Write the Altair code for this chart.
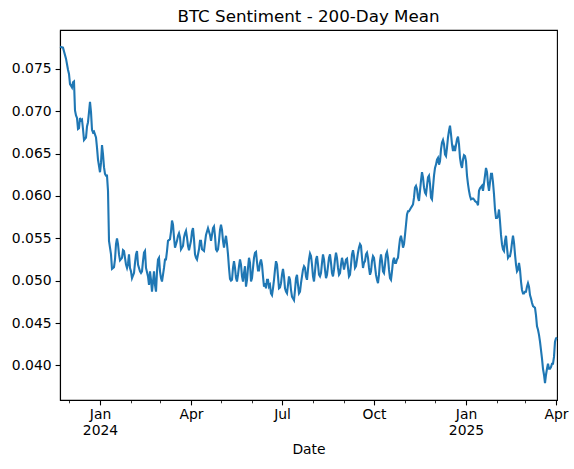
import altair as alt
import pandas as pd

START = "2023-11-22"

# day offset from START, and the 200-day mean sentiment on that day
days = [
    0, 3, 6, 8, 9, 10, 11, 12, 13, 14, 15, 16, 17, 18, 19, 20, 21, 22, 23, 24,
    26, 27, 28, 29, 30, 31, 32, 33, 34, 36, 37, 38, 40, 41, 42, 43, 44, 45, 46, 47,
    48, 49, 50, 51, 52, 54, 55, 56, 57, 58, 59, 60, 62, 63, 64, 65, 66, 67, 68, 69,
    70, 71, 72, 74, 75, 76, 77, 78, 80, 81, 82, 83, 84, 85, 86, 88, 89, 90, 91, 92,
    93, 94, 95, 96, 97, 98, 99, 100, 101, 102, 104, 105, 106, 107, 108, 110, 111, 112, 113, 114,
    115, 117, 118, 119, 120, 121, 123, 124, 125, 126, 127, 128, 129, 131, 132, 133, 134, 135, 136, 137,
    139, 140, 141, 142, 144, 145, 146, 147, 148, 150, 151, 152, 153, 154, 155, 156, 157, 158, 159, 160,
    161, 162, 163, 164, 165, 166, 167, 168, 169, 170, 171, 172, 173, 174, 175, 176, 177, 178, 179, 180,
    181, 182, 183, 184, 185, 186, 187, 188, 189, 190, 191, 192, 193, 194, 195, 196, 197, 198, 199, 200,
    201, 202, 203, 204, 205, 206, 207, 208, 209, 210, 211, 212, 213, 214, 215, 216, 217, 218, 219, 220,
    221, 222, 223, 224, 225, 226, 227, 228, 229, 230, 231, 232, 233, 234, 235, 236, 237, 238, 239, 240,
    241, 242, 243, 244, 245, 246, 247, 248, 249, 250, 251, 252, 253, 254, 255, 256, 257, 258, 259, 260,
    261, 262, 263, 264, 265, 266, 267, 268, 269, 270, 271, 272, 273, 274, 275, 276, 277, 278, 279, 280,
    281, 282, 283, 284, 285, 286, 287, 288, 289, 290, 291, 292, 293, 294, 295, 296, 297, 298, 299, 300,
    301, 302, 303, 304, 305, 306, 307, 308, 309, 310, 311, 312, 313, 314, 315, 316, 317, 318, 319, 320,
    321, 322, 323, 324, 325, 326, 327, 328, 329, 330, 331, 332, 333, 334, 335, 336, 337, 338, 339, 340,
    341, 342, 343, 344, 345, 346, 347, 348, 349, 350, 351, 352, 353, 354, 355, 356, 357, 358, 359, 360,
    361, 362, 363, 364, 365, 366, 367, 368, 369, 370, 371, 372, 373, 374, 375, 376, 377, 378, 379, 380,
    381, 382, 383, 384, 385, 386, 387, 388, 389, 390, 391, 392, 393, 394, 395, 396, 397, 398, 399, 400,
    401, 402, 403, 404, 405, 406, 407, 408, 409, 410, 411, 413, 414, 415, 417, 418, 419, 420, 422, 423,
    425, 426, 427, 428, 429, 430, 431, 432, 433, 434, 435, 436, 437, 438, 439, 440, 441, 442, 443, 444,
    445, 446, 447, 448, 449, 450, 451, 452, 453, 454, 455, 456, 457, 458, 459, 460, 461, 462, 463, 464,
    465, 466, 467, 468, 469, 470, 471, 472, 473, 475, 476, 477, 478, 479, 480, 481, 482, 483, 484, 485,
    486, 487, 488, 489, 490, 491, 492, 493, 494, 495, 496, 497,
]

sentiment = [
    0.0776, 0.0775, 0.0762, 0.0749, 0.0744, 0.0732, 0.0730, 0.0728, 0.0734, 0.0735,
    0.0701, 0.0695, 0.0692, 0.0679, 0.0680, 0.0692, 0.0689, 0.0690, 0.0679, 0.0666,
    0.0669, 0.0682, 0.0687, 0.0699, 0.0711, 0.0699, 0.0678, 0.0675, 0.0676, 0.0669,
    0.0657, 0.0643, 0.0628, 0.0639, 0.0660, 0.0649, 0.0634, 0.0626, 0.0624, 0.0624,
    0.0606, 0.0547, 0.0539, 0.0531, 0.0514, 0.0516, 0.0525, 0.0543, 0.0550, 0.0543,
    0.0531, 0.0524, 0.0527, 0.0536, 0.0535, 0.0527, 0.0519, 0.0515, 0.0520, 0.0531,
    0.0515, 0.0511, 0.0503, 0.0509, 0.0521, 0.0531, 0.0535, 0.0519, 0.0511, 0.0509,
    0.0511, 0.0523, 0.0533, 0.0535, 0.0515, 0.0505, 0.0495, 0.0511, 0.0501, 0.0487,
    0.0499, 0.0511, 0.0495, 0.0487, 0.0511, 0.0525, 0.0527, 0.0511, 0.0503, 0.0499,
    0.0515, 0.0525, 0.0525, 0.0535, 0.0547, 0.0549, 0.0558, 0.0571, 0.0566, 0.0551,
    0.0539, 0.0547, 0.0553, 0.0556, 0.0551, 0.0537, 0.0541, 0.0551, 0.0556, 0.0559,
    0.0551, 0.0541, 0.0536, 0.0547, 0.0558, 0.0562, 0.0549, 0.0531, 0.0527, 0.0525,
    0.0537, 0.0547, 0.0547, 0.0537, 0.0535, 0.0545, 0.0554, 0.0558, 0.0562, 0.0554,
    0.0547, 0.0554, 0.0562, 0.0564, 0.0553, 0.0537, 0.0535, 0.0537, 0.0547, 0.0560,
    0.0566, 0.0560, 0.0547, 0.0539, 0.0547, 0.0553, 0.0543, 0.0531, 0.0515, 0.0502,
    0.0500, 0.0501, 0.0515, 0.0523, 0.0515, 0.0503, 0.0499, 0.0507, 0.0517, 0.0525,
    0.0519, 0.0505, 0.0499, 0.0509, 0.0517, 0.0493, 0.0501, 0.0515, 0.0527, 0.0521,
    0.0499, 0.0503, 0.0515, 0.0527, 0.0533, 0.0534, 0.0522, 0.0512, 0.0512, 0.0521,
    0.0525, 0.0519, 0.0505, 0.0493, 0.0497, 0.0491, 0.0501, 0.0501, 0.0493, 0.0495,
    0.0485, 0.0483, 0.0491, 0.0501, 0.0513, 0.0523, 0.0519, 0.0505, 0.0491, 0.0492,
    0.0497, 0.0507, 0.0514, 0.0505, 0.0491, 0.0487, 0.0485, 0.0495, 0.0505, 0.0501,
    0.0489, 0.0481, 0.0479, 0.0477, 0.0489, 0.0503, 0.0507, 0.0495, 0.0485, 0.0487,
    0.0497, 0.0505, 0.0513, 0.0517, 0.0515, 0.0505, 0.0501, 0.0513, 0.0525, 0.0532,
    0.0529, 0.0519, 0.0505, 0.0499, 0.0511, 0.0525, 0.0529, 0.0519, 0.0507, 0.0505,
    0.0509, 0.0521, 0.0531, 0.0525, 0.0513, 0.0503, 0.0507, 0.0517, 0.0527, 0.0531,
    0.0521, 0.0509, 0.0505, 0.0513, 0.0525, 0.0533, 0.0527, 0.0515, 0.0507, 0.0509,
    0.0519, 0.0527, 0.0521, 0.0513, 0.0519, 0.0525, 0.0526, 0.0515, 0.0505, 0.0507,
    0.0519, 0.0531, 0.0536, 0.0529, 0.0515, 0.0517, 0.0525, 0.0533, 0.0539, 0.0543,
    0.0541, 0.0527, 0.0515, 0.0521, 0.0523, 0.0531, 0.0533, 0.0527, 0.0515, 0.0507,
    0.0511, 0.0523, 0.0529, 0.0527, 0.0517, 0.0507, 0.0501, 0.0497, 0.0507, 0.0523,
    0.0531, 0.0523, 0.0511, 0.0509, 0.0519, 0.0531, 0.0534, 0.0527, 0.0513, 0.0503,
    0.0501, 0.0511, 0.0523, 0.0527, 0.0521, 0.0521, 0.0525, 0.0527, 0.0539, 0.0549,
    0.0553, 0.0547, 0.0539, 0.0543, 0.0554, 0.0566, 0.0578, 0.0582, 0.0582, 0.0584,
    0.0586, 0.0588, 0.0590, 0.0598, 0.0610, 0.0612, 0.0608, 0.0598, 0.0594, 0.0606,
    0.0618, 0.0628, 0.0622, 0.0610, 0.0604, 0.0602, 0.0612, 0.0622, 0.0624, 0.0614,
    0.0598, 0.0596, 0.0610, 0.0624, 0.0633, 0.0637, 0.0643, 0.0645, 0.0637, 0.0641,
    0.0655, 0.0663, 0.0666, 0.0661, 0.0649, 0.0647, 0.0657, 0.0669, 0.0677, 0.0683,
    0.0673, 0.0661, 0.0653, 0.0657, 0.0653, 0.0660, 0.0667, 0.0670, 0.0661, 0.0645,
    0.0637, 0.0633, 0.0643, 0.0648, 0.0647, 0.0641, 0.0624, 0.0614, 0.0606, 0.0600,
    0.0596, 0.0597, 0.0596, 0.0594, 0.0592, 0.0589, 0.0606, 0.0609, 0.0612, 0.0606,
    0.0624, 0.0633, 0.0628, 0.0614, 0.0606, 0.0616, 0.0626, 0.0626, 0.0616, 0.0602,
    0.0584, 0.0574, 0.0574, 0.0576, 0.0584, 0.0570, 0.0554, 0.0543, 0.0537, 0.0535,
    0.0547, 0.0553, 0.0539, 0.0527, 0.0529, 0.0529, 0.0535, 0.0545, 0.0553, 0.0545,
    0.0531, 0.0519, 0.0511, 0.0513, 0.0521, 0.0513, 0.0499, 0.0489, 0.0485, 0.0485,
    0.0487, 0.0487, 0.0493, 0.0497, 0.0493, 0.0483, 0.0479, 0.0474, 0.0470, 0.0468,
    0.0459, 0.0446, 0.0442, 0.0436, 0.0428, 0.0418, 0.0408, 0.0396, 0.0389, 0.0379,
    0.0389, 0.0396, 0.0402, 0.0396, 0.0396, 0.0398, 0.0402, 0.0402, 0.0410, 0.0428,
    0.0432, 0.0433,
]

# labelled ticks at quarter starts, short ticks at every month start
major_ticks = [(2024, 1), (2024, 4), (2024, 7), (2024, 10), (2025, 1), (2025, 4)]
minor_ticks = [(2023, 12)] + [(2024, m) for m in range(1, 13)] + [(2025, m) for m in range(1, 5)]
y_ticks = [0.040, 0.045, 0.050, 0.055, 0.060, 0.065, 0.070, 0.075]

FONT = "DejaVu Sans"

df = pd.DataFrame({
    "Date": (pd.Timestamp(START) + pd.to_timedelta(days, unit="D")).strftime("%Y-%m-%d"),
    "sentiment": sentiment,
})

# y range padded by 5% of the data span on each side
lo, hi = min(sentiment), max(sentiment)
pad = 0.05 * (hi - lo)
y_domain = [lo - pad, hi + pad]

x_start = pd.Timestamp(START)
x_end = x_start + pd.Timedelta(days=max(days))
x_domain = [
    alt.DateTime(year=x_start.year, month=x_start.month, date=x_start.day, utc=True),
    alt.DateTime(year=x_end.year, month=x_end.month, date=x_end.day, utc=True),
]


def dt(y, m):
    return alt.DateTime(year=y, month=m, date=1, utc=True)


major_axis = alt.Axis(
    values=[dt(y, m) for y, m in major_ticks],
    labelExpr=(
        "utcmonth(datum.value) == 0 ? "
        "[utcFormat(datum.value, '%b'), utcFormat(datum.value, '%Y')] : "
        "utcFormat(datum.value, '%b')"
    ),
    orient="bottom",
    grid=False,
    tickSize=4.9, tickWidth=1.1, tickColor="black",
    domainColor="black", domainWidth=1.1,
    labelFont=FONT, labelFontSize=13.9, labelColor="black",
    labelPadding=3, labelLineHeight=16, labelFlush=False, labelOverlap=False,
    labelBaseline="top",
    title="Date", titleFont=FONT, titleFontSize=13.9, titleFontWeight="normal",
    titleColor="black", titlePadding=5,
)

minor_axis = alt.Axis(
    values=[dt(y, m) for y, m in minor_ticks],
    orient="bottom",
    grid=False, labels=False, domain=False, title=None,
    tickSize=2.8, tickWidth=0.8, tickColor="black",
)

y_axis = alt.Axis(
    values=y_ticks, format=".3f",
    grid=False, title=None,
    tickSize=4.9, tickWidth=1.1, tickColor="black",
    domainColor="black", domainWidth=1.1,
    labelFont=FONT, labelFontSize=13.9, labelColor="black", labelPadding=4,
)

x_scale = alt.Scale(type="utc", domain=x_domain)
y_scale = alt.Scale(domain=y_domain, nice=False, zero=False)

base = alt.Chart(df)

line = base.mark_line(color="#1f77b4", strokeWidth=2.1).encode(
    x=alt.X("Date:T", scale=x_scale, axis=major_axis),
    y=alt.Y("sentiment:Q", scale=y_scale, axis=y_axis),
)

# invisible copy of the line that carries the monthly minor ticks
minor = base.mark_line(opacity=0).encode(
    x=alt.X("Date:T", scale=x_scale, axis=minor_axis),
    y=alt.Y("sentiment:Q", scale=y_scale, axis=y_axis),
)

chart = (
    alt.layer(line, minor)
    .resolve_axis(x="independent")
    .properties(
        width=497,
        height=370,
        title=alt.TitleParams(
            "BTC Sentiment - 200-Day Mean",
            font=FONT, fontSize=16.7, fontWeight="normal", color="black",
            anchor="middle", offset=4,
        ),
        padding={"left": 60, "top": 30, "right": 17, "bottom": 69},
        autosize=alt.AutoSizeParams(type="none"),
        background="white",
    )
    .configure_view(stroke="black", strokeWidth=1.1)
)

chart.save("out.html", embed_options={"renderer": "svg", "actions": False})
